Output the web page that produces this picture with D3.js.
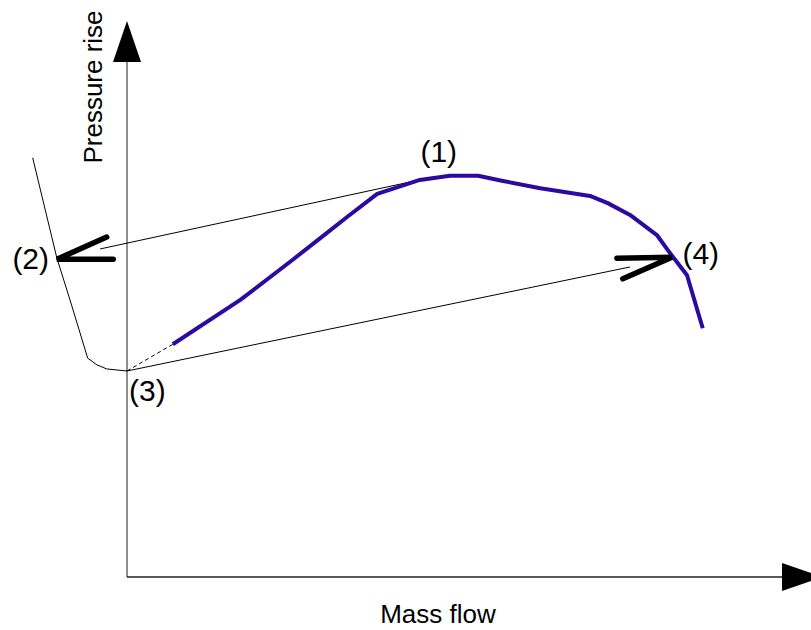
<!DOCTYPE html>
<html>
<head>
<meta charset="utf-8">
<script src="https://cdn.jsdelivr.net/npm/d3@7"></script>
<style>
  body { margin: 0; background: #fff; }
  svg { display: block; font-family: Arial, "Liberation Sans", sans-serif; }
</style>
</head>
<body>
<svg width="811" height="630"></svg>
<script>
// compressor characteristic (mass flow %, pressure rise %)
const flowChar = [7.0, 17.3, 25.3, 29.9, 33.6, 38.2, 43.2, 44.7, 49.3, 53.6, 57.4, 63.1, 70.7, 73.4, 76.8, 80.9, 82.9, 85.5, 87.9];
const pressChar = [45.2, 53.8, 61.6, 66.2, 69.9, 74.4, 76.5, 77.1, 77.9, 77.9, 76.9, 75.5, 74.0, 72.6, 70.3, 66.4, 62.9, 58.6, 48.3];

// reverse flow branch
const flowRev = [-14.4, -10.7, -8.7, -6.0, -4.6, -3.1, 0];
const pressRev = [81.4, 61.9, 53.8, 42.5, 41.2, 40.4, 40.0];

// surge cycle jumps: (2)->(1) and (3)->(4)
const jumpLines = [
  { from: [-4.1, 63.7], to: [43.2, 76.7] },
  { from: [0, 40.0], to: [76.8, 60.2] }
];
const dashedLine = [[0, 40.0], [7.0, 45.2]];

// direction chevrons (arm, tip, arm)
const chevrons = [
  [[-3.1, 66.0], [-10.7, 61.7], [-2.1, 61.7]],
  [[74.8, 61.9], [83.2, 62.1], [75.7, 57.9]]
];

const pointLabels = ["(1)", "(2)", "(3)", "(4)"];
const labelFlow = [47.6, -14.7, 3.1, 87.6];
const labelPress = [80.6, 59.8, 34.2, 60.8];

const svg = d3.select("svg");

const x = d3.scaleLinear().domain([0, 100]).range([127, 782]);
const y = d3.scaleLinear().domain([0, 100]).range([577, 62]);

const line = d3.line().x(d => x(d[0])).y(d => y(d[1]));

// axes
svg.append("line")
   .attr("x1", x(0)).attr("y1", y(0))
   .attr("x2", x(0)).attr("y2", y(100))
   .attr("stroke", "#444").attr("stroke-width", 1.2);
svg.append("line")
   .attr("x1", x(0)).attr("y1", y(0))
   .attr("x2", x(100)).attr("y2", y(0))
   .attr("stroke", "#222").attr("stroke-width", 1.5);

svg.append("path")
   .attr("d", `M${x(0)},${y(100) - 41} L${x(0) - 14},${y(100)} L${x(0) + 14},${y(100)} Z`)
   .attr("fill", "#000");
svg.append("path")
   .attr("d", `M${x(100) + 41},${y(0)} L${x(100)},${y(0) - 14} L${x(100)},${y(0) + 14} Z`)
   .attr("fill", "#000");

svg.append("text")
   .attr("transform", `translate(102, 87) rotate(-90)`)
   .attr("text-anchor", "middle")
   .style("font-size", "26px")
   .text("Pressure rise");

svg.append("text")
   .attr("x", 438).attr("y", 623)
   .attr("text-anchor", "middle")
   .style("font-size", "26px")
   .text("Mass flow");

// reverse flow branch
svg.append("path")
   .datum(flowRev.map((f, i) => [f, pressRev[i]]))
   .attr("fill", "none")
   .attr("stroke", "#000")
   .attr("stroke-width", 1)
   .attr("d", line);

// jump lines
jumpLines.forEach(j => {
  svg.append("path")
     .datum([j.from, j.to])
     .attr("fill", "none")
     .attr("stroke", "#000")
     .attr("stroke-width", 1)
     .attr("d", line);
});

svg.append("path")
   .datum(dashedLine)
   .attr("fill", "none")
   .attr("stroke", "#000")
   .attr("stroke-width", 1)
   .attr("stroke-dasharray", "4,3")
   .attr("d", line);

// compressor characteristic
svg.append("path")
   .datum(flowChar.map((f, i) => [f, pressChar[i]]))
   .attr("fill", "none")
   .attr("stroke", "#2a0aa0")
   .attr("stroke-width", 4)
   .attr("stroke-linejoin", "round")
   .attr("d", line);

// chevrons
chevrons.forEach(c => {
  svg.append("path")
     .datum(c)
     .attr("fill", "none")
     .attr("stroke", "#000")
     .attr("stroke-width", 5.5)
     .attr("stroke-linecap", "round")
     .attr("stroke-linejoin", "miter")
     .attr("d", line);
});

// point labels
svg.selectAll(".plabel")
   .data(pointLabels)
   .enter()
   .append("text")
   .attr("class", "plabel")
   .attr("x", (d, i) => x(labelFlow[i]))
   .attr("y", (d, i) => y(labelPress[i]))
   .attr("text-anchor", "middle")
   .style("font-size", "30px")
   .text(d => d);
</script>
</body>
</html>
